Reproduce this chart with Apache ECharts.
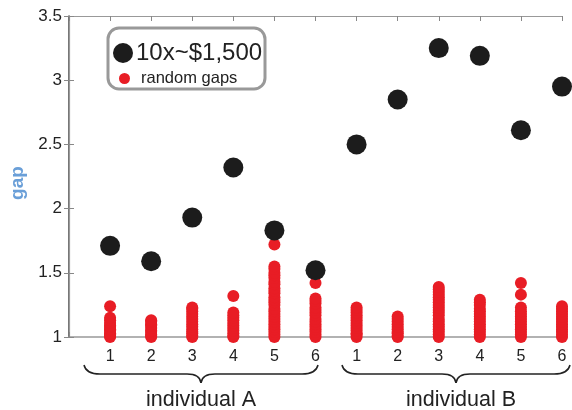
<!DOCTYPE html>
<html>
<head>
<meta charset="utf-8">
<script src="https://cdn.jsdelivr.net/npm/echarts@6/dist/echarts.min.js"></script>
<style>
  html, body { margin: 0; padding: 0; background: #fff; }
  #chart { width: 572px; height: 410px; }
</style>
</head>
<body>
<div id="chart"></div>
<script>
// tick labels along x (two individuals, six trials each)
const tickLabels = ["1", "2", "3", "4", "5", "6", "1", "2", "3", "4", "5", "6"];
const groupNames = ["individual A", "individual B"];

// big black dots: 10x ~ $1,500
const bigA = [1.71, 1.59, 1.93, 2.32, 1.83, 1.52];
const bigB = [2.50, 2.85, 3.25, 3.19, 2.61, 2.95];

// red dots: random gaps, one list per trial
const gapsA = [
  [1.00, 1.01, 1.02, 1.03, 1.05, 1.06, 1.08, 1.09, 1.11, 1.13, 1.15, 1.24],
  [1.00, 1.01, 1.02, 1.04, 1.05, 1.07, 1.09, 1.10, 1.12, 1.13],
  [1.00, 1.01, 1.03, 1.04, 1.06, 1.08, 1.10, 1.12, 1.14, 1.16, 1.18, 1.20, 1.22, 1.23],
  [1.00, 1.01, 1.03, 1.05, 1.07, 1.09, 1.11, 1.13, 1.15, 1.17, 1.19, 1.32],
  [1.00, 1.02, 1.04, 1.06, 1.08, 1.10, 1.12, 1.14, 1.16, 1.18, 1.20, 1.22, 1.25, 1.27,
   1.29, 1.31, 1.34, 1.36, 1.38, 1.41, 1.43, 1.46, 1.48, 1.50, 1.53, 1.55, 1.72],
  [1.00, 1.02, 1.04, 1.06, 1.08, 1.10, 1.12, 1.14, 1.17, 1.19, 1.21, 1.23, 1.26, 1.28, 1.30, 1.42]
];
const gapsB = [
  [1.00, 1.02, 1.03, 1.05, 1.07, 1.09, 1.11, 1.13, 1.15, 1.17, 1.19, 1.21, 1.23],
  [1.00, 1.01, 1.03, 1.04, 1.06, 1.08, 1.10, 1.12, 1.14, 1.16],
  [1.00, 1.02, 1.04, 1.06, 1.08, 1.10, 1.12, 1.14, 1.17, 1.19, 1.21, 1.23, 1.25, 1.27,
   1.29, 1.31, 1.33, 1.35, 1.37, 1.39],
  [1.00, 1.02, 1.04, 1.06, 1.08, 1.10, 1.12, 1.14, 1.16, 1.18, 1.20, 1.22, 1.25, 1.27, 1.29],
  [1.00, 1.02, 1.04, 1.06, 1.08, 1.10, 1.12, 1.14, 1.16, 1.18, 1.20, 1.23, 1.33, 1.42],
  [1.00, 1.02, 1.04, 1.06, 1.08, 1.10, 1.12, 1.14, 1.16, 1.18, 1.20, 1.22, 1.24]
];

const FONT = "Liberation Sans, Arial, Helvetica, sans-serif";

const bigData = bigA.concat(bigB).map((v, i) => [i + 1, v]);
const gapData = [];
gapsA.concat(gapsB).forEach((list, i) => {
  list.forEach(v => gapData.push([i + 1, v]));
});

// curly brace under a group of ticks, built from curves + lines
function brace(x1, x2, y0) {
  const xm = (x1 + x2) / 2;
  const y1 = y0 + 9, y2 = y0 + 18;
  const st = { fill: "none", stroke: "#222", lineWidth: 1.5 };
  const curve = (ax, ay, bx, by, cx, cy) => ({
    type: "bezierCurve",
    shape: { x1: ax, y1: ay, x2: bx, y2: by, cpx1: cx, cpy1: cy },
    style: st
  });
  const line = (ax, bx) => ({
    type: "line",
    shape: { x1: ax, y1: y1, x2: bx, y2: y1 },
    style: st
  });
  return [
    curve(x1, y0, x1 + 16, y1, x1 + 2, y1),
    line(x1 + 16, xm - 14),
    curve(xm - 14, y1, xm, y2, xm - 1, y1),
    curve(xm, y2, xm + 14, y1, xm + 1, y1),
    line(xm + 14, x2 - 16),
    curve(x2 - 16, y1, x2, y0, x2 - 2, y1)
  ];
}

const chart = echarts.init(document.getElementById("chart"));

const xBase = {
  type: "value",
  min: 0,
  max: 12,
  interval: 1,
  splitLine: { show: false },
  axisTick: { inside: true, length: 5, lineStyle: { color: "#888" } }
};
const yBase = {
  type: "value",
  min: 1,
  max: 3.5,
  interval: 0.5,
  splitLine: { show: false },
  axisTick: { inside: true, length: 5, lineStyle: { color: "#888" } }
};

const option = {
  animation: false,
  grid: { left: 68, right: 10, top: 16, bottom: 73 },
  xAxis: [
    Object.assign({}, xBase, {
      position: "bottom",
      axisLine: { lineStyle: { color: "#999", width: 1.5 } },
      axisLabel: {
        color: "#222",
        fontFamily: FONT,
        fontSize: 16,
        margin: 12,
        formatter: v => (v >= 1 && v <= 12 ? tickLabels[v - 1] : "")
      }
    }),
    Object.assign({}, xBase, {
      position: "top",
      axisLine: { lineStyle: { color: "#999", width: 1.2 } },
      axisLabel: { show: false }
    })
  ],
  yAxis: [
    Object.assign({}, yBase, {
      position: "left",
      name: "gap",
      nameLocation: "middle",
      nameGap: 42,
      nameRotate: 90,
      nameTextStyle: {
        color: "#6a9fd8",
        fontFamily: FONT,
        fontSize: 19,
        fontWeight: "bold",
        padding: [0, 13, 0, 0]
      },
      axisLine: { lineStyle: { color: "#444", width: 1.5 } },
      axisLabel: { color: "#222", fontFamily: FONT, fontSize: 17, margin: 7 }
    }),
    Object.assign({}, yBase, {
      position: "right",
      axisLine: { lineStyle: { color: "#999", width: 1.2 } },
      axisLabel: { show: false }
    })
  ],
  legend: [
    {
      data: ["10x~$1,500"],
      left: 108,
      top: 36,
      icon: "circle",
      itemWidth: 20,
      itemHeight: 20,
      textStyle: { color: "#222", fontFamily: FONT, fontSize: 24, padding: [0, 0, 0, -2] }
    },
    {
      data: ["random gaps"],
      left: 114,
      top: 65,
      icon: "circle",
      itemWidth: 11,
      itemHeight: 11,
      textStyle: { color: "#222", fontFamily: FONT, fontSize: 16.5, padding: [0, 0, 0, 6] }
    }
  ],
  graphic: [
    {
      type: "rect",
      shape: { x: 108, y: 28, width: 157, height: 61, r: 11 },
      style: { fill: "none", stroke: "#999", lineWidth: 3 }
    },
    ...brace(84, 318, 365),
    ...brace(342, 570, 365),
    {
      type: "text",
      x: 201,
      y: 400,
      style: {
        text: groupNames[0], fill: "#222", font: "21.5px " + FONT,
        textAlign: "center", textVerticalAlign: "middle"
      }
    },
    {
      type: "text",
      x: 461,
      y: 400,
      style: {
        text: groupNames[1], fill: "#222", font: "21.5px " + FONT,
        textAlign: "center", textVerticalAlign: "middle"
      }
    }
  ],
  series: [
    {
      name: "random gaps",
      type: "scatter",
      symbol: "circle",
      symbolSize: 12,
      itemStyle: { color: "#e81d25", opacity: 1 },
      data: gapData,
      z: 2
    },
    {
      name: "10x~$1,500",
      type: "scatter",
      symbol: "circle",
      symbolSize: 20,
      itemStyle: { color: "#1c1c1c", opacity: 1 },
      data: bigData,
      z: 3
    }
  ]
};

chart.setOption(option);
</script>
</body>
</html>
